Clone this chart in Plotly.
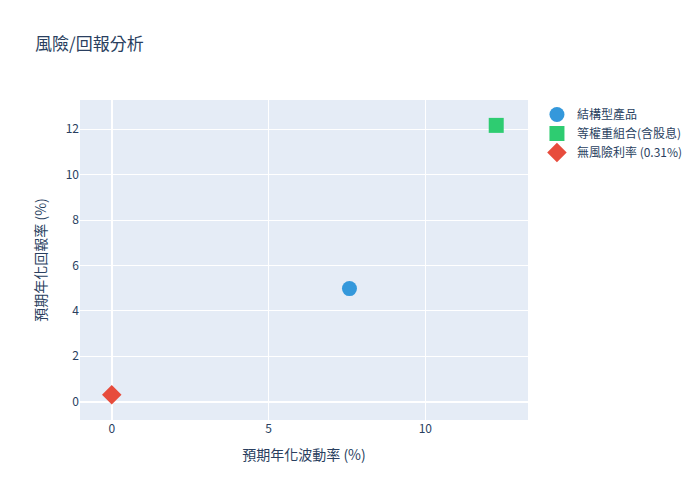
import plotly.graph_objects as go

names = ["結構型產品", "等權重組合(含股息)", "無風險利率 (0.31%)"]
vol = [7.58, 12.26, 0.0]
ret = [4.98, 12.17, 0.31]
colors = ["#3498db", "#2ecc71", "#e74c3c"]
symbols = ["circle", "square", "diamond"]

fig = go.Figure()
for n, x, y, c, s in zip(names, vol, ret, colors, symbols):
    fig.add_trace(go.Scatter(x=[x], y=[y], mode="markers", name=n,
                             marker=dict(size=15, color=c, symbol=s)))

fig.update_layout(
    title=dict(text="風險/回報分析", x=27 / 692, xanchor="left",
               y=1 - 36 / 500, yanchor="middle", yref="container"),
    xaxis_title="預期年化波動率 (%)",
    yaxis_title="預期年化回報率 (%)",
    font=dict(family="Noto Sans CJK TC, Noto Sans, sans-serif"),
    width=692, height=500,
    margin=dict(l=72, r=88, t=92, b=88),
)
fig.write_html("out.html")
